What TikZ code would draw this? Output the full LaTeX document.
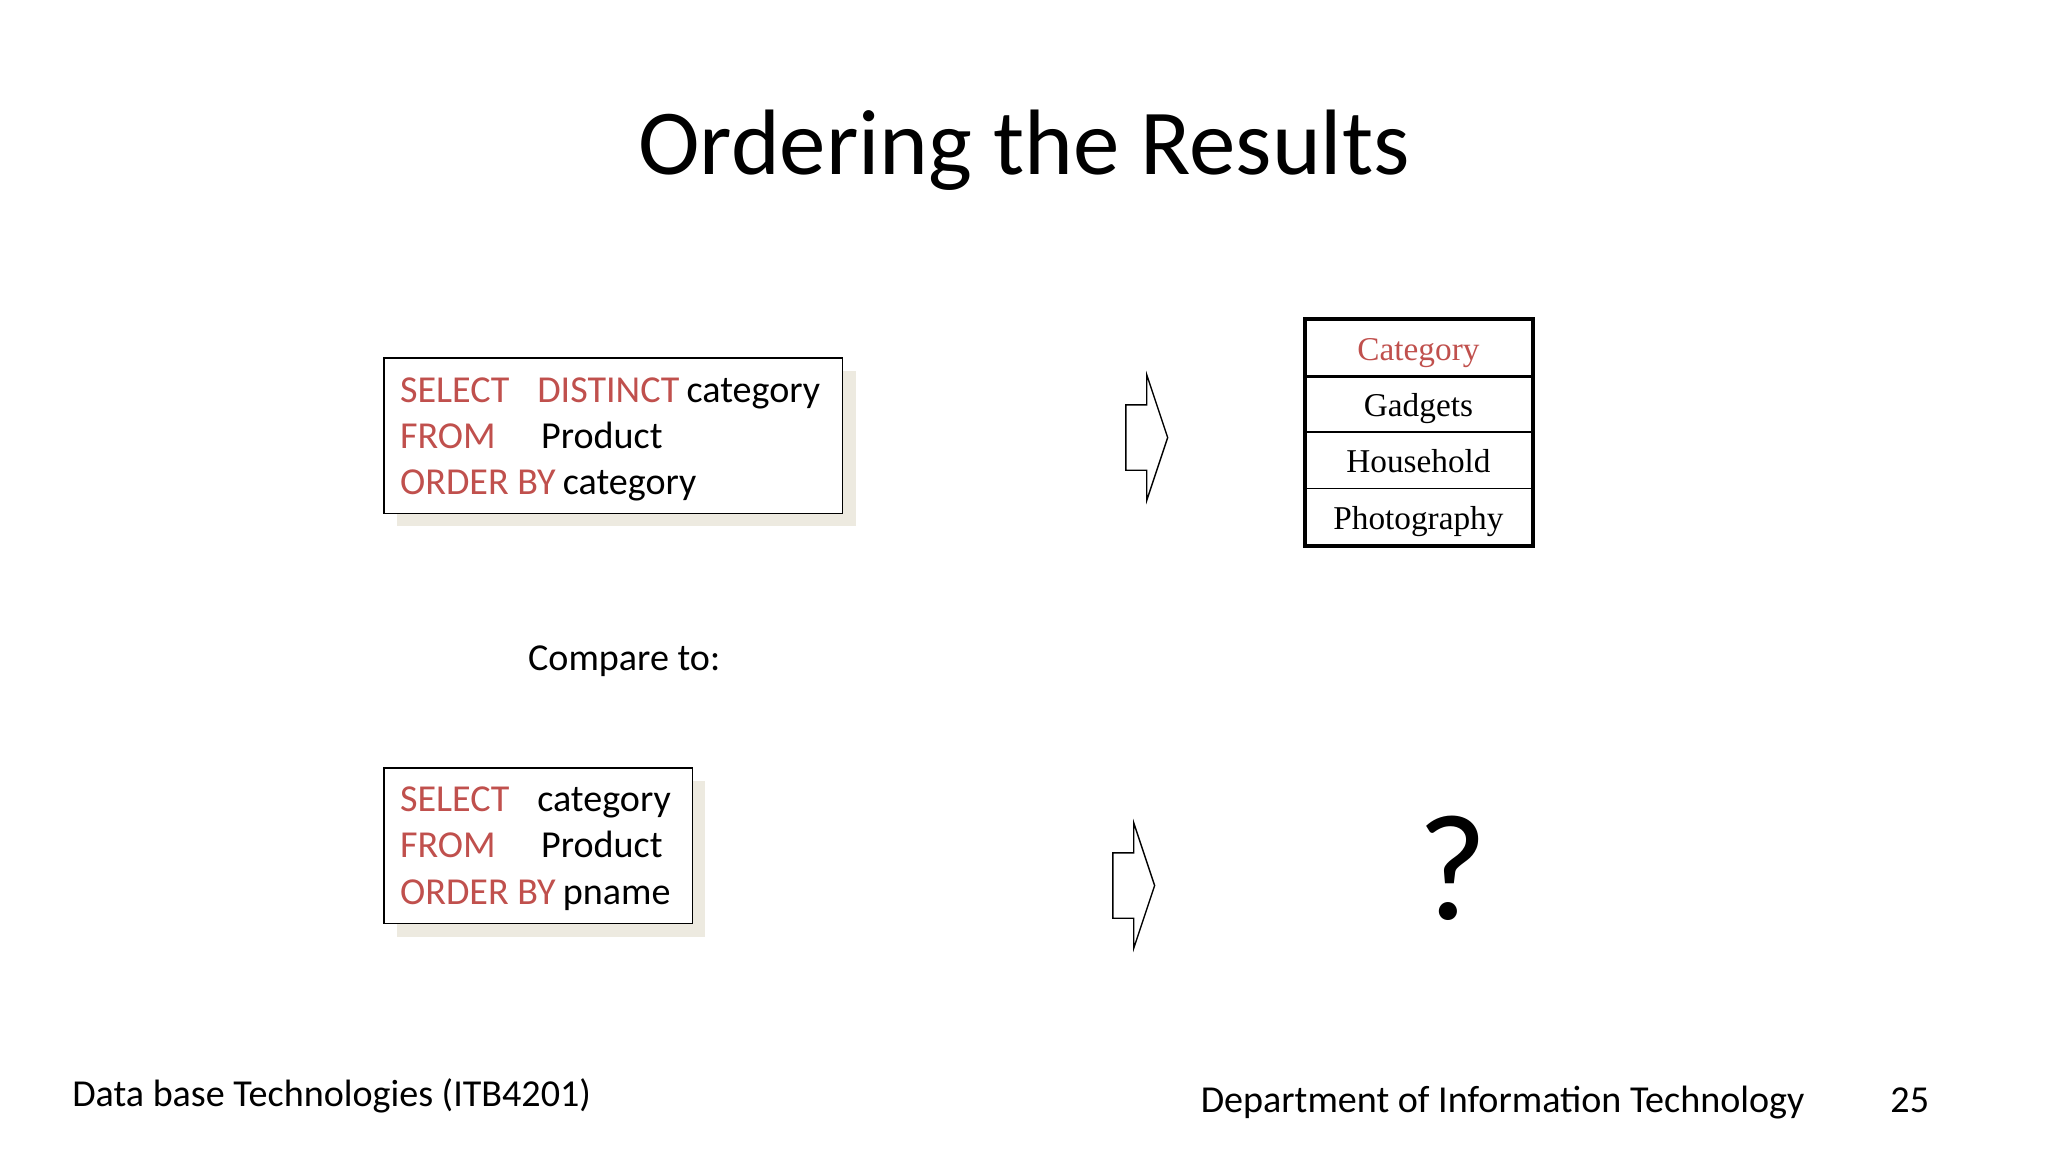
\documentclass[tikz,border=0pt]{standalone}
\usepackage{fontspec}
\setmainfont{Carlito}
\newfontfamily\tabfont{Liberation Serif}
\definecolor{kw}{HTML}{C0504D}
\definecolor{shad}{HTML}{EDEAE0}
\begin{document}
\begin{tikzpicture}[x=0.02cm,y=-0.02cm,
  txt/.style={anchor=west,inner sep=0pt,yshift=-0.1cm,text height=1.5ex,text depth=0.45ex,font=\fontsize{16.6}{19}\selectfont},
  kwd/.style={txt,text=kw},
  tab/.style={font=\tabfont\fontsize{14.5}{17}\selectfont,inner sep=0pt,yshift=-0.06cm,text height=1.6ex,text depth=0.4ex},
  blk/.style={draw,line width=0.6pt,fill=white}]
\useasboundingbox (0,0) rectangle (1568,882);
\node[inner sep=0pt,font=\fontsize{40.5}{44}\selectfont] (title) at (784,115) {Ordering the Results};
% box 1
\fill[shad] (304,284) rectangle (655,403);
\draw[blk] (294,274) rectangle (645,393);
\node[kwd] (s1) at (306,299) {SELECT};
\node[kwd] (d1) at (411,299) {DISTINCT};
\node[txt,yshift=0.1cm] (c1) at (d1.east) {\,category};
\node[kwd] (f1) at (306,334) {FROM};
\node[txt] (p1) at (414,334) {Product};
\node[kwd] (o1) at (306,369) {ORDER BY};
\node[txt,yshift=0.1cm] (oc1) at (o1.east) {\,category};
% box 2
\fill[shad] (304,598) rectangle (540,717);
\draw[blk] (294,588) rectangle (530,707);
\node[kwd] (s2) at (306,612) {SELECT};
\node[txt] (c2) at (411,612) {category};
\node[kwd] (f2) at (306,647) {FROM};
\node[txt] (p2) at (414,647) {Product};
\node[kwd] (o2) at (306,683) {ORDER BY};
\node[txt,yshift=0.1cm] (oc2) at (o2.east) {\,pname};
\node[txt] (cmp) at (404,504) {Compare to:};
% arrows
\draw[line width=0.6pt] (862,310)--(878,310)--(878,287)--(894,335)--(878,383)--(878,360)--(862,360)--cycle;
\draw[line width=0.6pt] (852,653)--(868,653)--(868,630)--(884,678)--(868,726)--(868,703)--(852,703)--cycle;
% table
\draw[line width=1.8pt] (999,244) rectangle (1174,418);
\draw[line width=1.4pt] (999,288)--(1174,288);
\draw[line width=0.8pt] (999,331)--(1174,331);
\draw[line width=0.8pt] (999,374)--(1174,374);
\node[tab,text=kw] (h) at (1086,268) {Category};
\node[tab] (r1) at (1086,311) {Gadgets};
\node[tab] (r2) at (1086,354) {Household};
\node[tab] (r3) at (1086,397) {Photography};
\node[inner sep=0pt,font=\fontsize{66}{70}\selectfont] (q) at (1112,665) {?};
% footer
\node[txt] (f) at (55,838) {Data base Technologies (ITB4201)};
\node[txt] (dep) at (919,842) {Department of Information Technology};
\node[txt] (pg) at (1447,842) {25};
\end{tikzpicture}
\end{document}
